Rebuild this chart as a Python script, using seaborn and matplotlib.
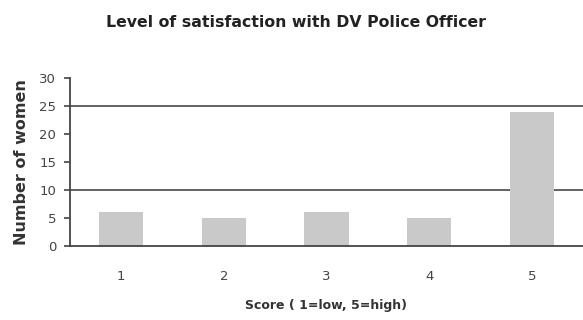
import matplotlib
matplotlib.use("Agg")
import matplotlib.pyplot as plt
import seaborn as sns
import pandas as pd

# Survey responses: satisfaction score vs. number of women
scores = ["1", "2", "3", "4", "5"]
women = [6, 5, 6, 5, 24]
y_ticks = [0, 5, 10, 15, 20, 25, 30]
grid_levels = [10, 25]

df = pd.DataFrame({"score": scores, "women": women})

sns.set_theme(style="white")
plt.rcParams["font.family"] = ["DejaVu Sans"]

fig = plt.figure(figsize=(5.83, 3.2), dpi=100)
ax = fig.add_axes([0.12, 0.231, 0.88, 0.525])

for lvl in grid_levels:
    ax.axhline(lvl, color="#555555", lw=1.3, zorder=0)

sns.barplot(data=df, x="score", y="women", order=scores, color="#c9c9c9",
            width=0.43, saturation=1, edgecolor="none", ax=ax, zorder=2)

ax.set_ylim(0, 30)
ax.set_xlim(-0.5, 4.5)
ax.set_yticks(y_ticks)
ax.set_yticklabels([str(t) for t in y_ticks])

for side in ["top", "right"]:
    ax.spines[side].set_visible(False)
for side in ["left", "bottom"]:
    ax.spines[side].set_color("#444444")
    ax.spines[side].set_linewidth(1.3)

ax.tick_params(axis="y", which="both", left=True, length=4, width=1.2,
               color="#444444", labelsize=9.5, labelcolor="#444444", pad=6)
ax.tick_params(axis="x", bottom=False, labelsize=9.5, labelcolor="#444444", pad=11)

ax.set_xlabel("Score ( 1=low, 5=high)", fontsize=9, fontweight="bold",
              color="#333333", labelpad=12)
ax.set_ylabel("Number of women", fontsize=11.5, fontweight="bold",
              color="#333333", labelpad=7)
fig.suptitle("Level of satisfaction with DV Police Officer", x=0.508, y=0.93,
             va="center", fontsize=11.3, fontweight="bold", color="#222222")

fig.savefig("out.png", dpi=100, facecolor="white")
